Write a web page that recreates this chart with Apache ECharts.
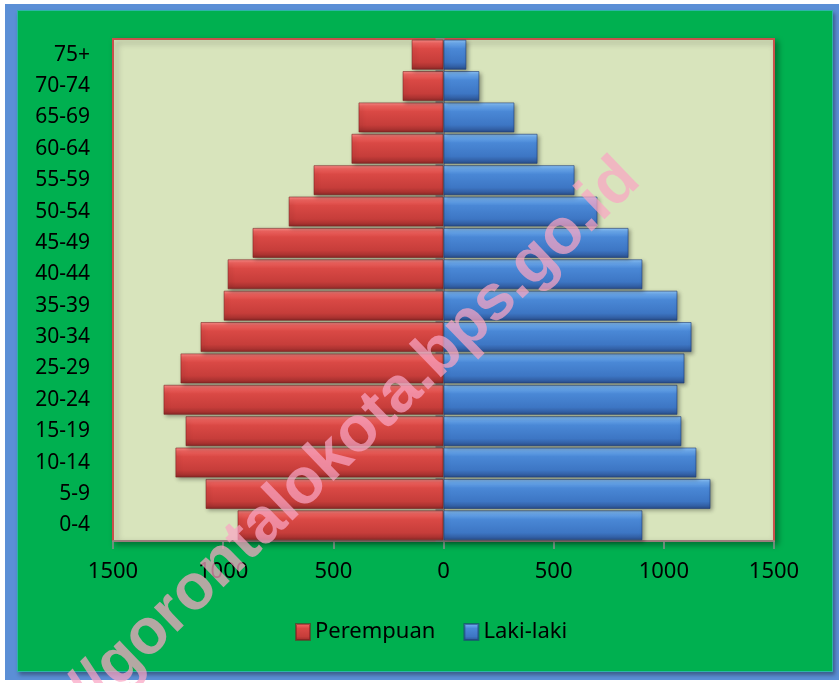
<!DOCTYPE html>
<html>
<head>
<meta charset="utf-8">
<script src="https://cdn.jsdelivr.net/npm/echarts@6/dist/echarts.min.js"></script>
<style>
  html, body { margin: 0; padding: 0; background: #ffffff; width: 839px; height: 683px; overflow: hidden; }
  #frame { position: absolute; left: 5px; top: 4px; width: 834px; height: 676px; background: #5B8FD6; }
  #panel { position: absolute; left: 17px; top: 10px; width: 814px; height: 660px; background: #00B050;
           border: 1px solid #2DB5A8; box-shadow: 2px 3px 4px rgba(0,0,0,0.35); }
  #chart { position: absolute; left: 0; top: 0; width: 839px; height: 683px; }
</style>
</head>
<body>
<div id="frame"></div>
<div id="panel"></div>
<div id="chart"></div>
<script>
// Age groups (bottom to top)
const categories = ['0-4','5-9','10-14','15-19','20-24','25-29','30-34','35-39','40-44','45-49','50-54','55-59','60-64','65-69','70-74','75+'];
// Female (left side)
const perempuan = [935, 1080, 1217, 1171, 1271, 1194, 1103, 998, 980, 867, 703, 590, 418, 386, 186, 145];
// Male (right side)
const lakiLaki = [903, 1212, 1148, 1080, 1062, 1094, 1126, 1062, 903, 840, 699, 595, 427, 322, 163, 104];
// Value axis ticks
const axisMin = -1500, axisMax = 1500, axisStep = 500;
const watermark = 'http://gorontalokota.bps.go.id';

const FONT = 'Noto Sans';

const redFill = new echarts.graphic.LinearGradient(0, 0, 0, 1, [
  { offset: 0, color: '#FA908C' },
  { offset: 0.12, color: '#EE625E' },
  { offset: 0.3, color: '#DA4945' },
  { offset: 0.75, color: '#C63D3A' },
  { offset: 0.9, color: '#A93230' },
  { offset: 1, color: '#842624' }
]);
const blueFill = new echarts.graphic.LinearGradient(0, 0, 0, 1, [
  { offset: 0, color: '#90C6F8' },
  { offset: 0.12, color: '#6AA8EC' },
  { offset: 0.3, color: '#4A88D6' },
  { offset: 0.75, color: '#3D76C4' },
  { offset: 0.9, color: '#325FA4' },
  { offset: 1, color: '#264A84' }
]);

const chart = echarts.init(document.getElementById('chart'), null, { renderer: 'canvas' });

chart.setOption({
  backgroundColor: 'transparent',
  animation: false,
  textStyle: { fontFamily: FONT },
  grid: {
    left: 113, top: 39, width: 661, height: 502,
    show: true,
    backgroundColor: '#D8E4BC',
    borderColor: '#C8504C',
    borderWidth: 2,
    shadowBlur: 6,
    shadowOffsetX: 3,
    shadowOffsetY: 3,
    shadowColor: 'rgba(0,0,0,0.35)',
    containLabel: false
  },
  legend: {
    data: ['Perempuan', 'Laki-laki'],
    left: 290,
    top: 616,
    itemWidth: 14,
    itemHeight: 16,
    itemGap: 28,
    icon: 'rect',
    textStyle: { fontFamily: FONT, fontSize: 22, color: '#000000' }
  },
  xAxis: {
    type: 'value',
    min: axisMin,
    max: axisMax,
    interval: axisStep,
    splitLine: { show: false },
    axisLine: { show: true, lineStyle: { color: '#8C8C8C', width: 1.5 } },
    axisTick: { show: true, length: 8, lineStyle: { color: '#8C8C8C', width: 1.5 } },
    axisLabel: {
      margin: 20,
      fontFamily: FONT,
      fontSize: 22,
      color: '#000000',
      formatter: v => String(Math.abs(v))
    }
  },
  yAxis: [
    {
      type: 'category',
      data: categories,
      position: 'left',
      axisLine: { show: false, onZero: false },
      axisTick: { show: false },
      axisLabel: { margin: 23, fontFamily: FONT, fontSize: 21, color: '#000000' },
      splitLine: { show: false }
    },
    {
      type: 'category',
      data: categories,
      position: 'left',
      axisLine: { show: true, onZero: true, lineStyle: { color: '#8C8C8C', width: 1.5 } },
      axisTick: { show: true, length: 8, lineStyle: { color: '#8C8C8C', width: 1.5 } },
      axisLabel: { show: false },
      splitLine: { show: false }
    }
  ],
  series: [
    {
      name: 'Perempuan',
      type: 'bar',
      stack: 'pop',
      yAxisIndex: 0,
      barCategoryGap: '4%',
      data: perempuan.map(v => -v),
      itemStyle: {
        color: redFill,
        borderColor: 'rgba(120,30,30,0.55)',
        borderWidth: 1,
        shadowBlur: 4,
        shadowOffsetX: 2,
        shadowOffsetY: 2,
        shadowColor: 'rgba(0,0,0,0.35)'
      }
    },
    {
      name: 'Laki-laki',
      type: 'bar',
      stack: 'pop',
      yAxisIndex: 0,
      barCategoryGap: '4%',
      data: lakiLaki.slice(),
      itemStyle: {
        color: blueFill,
        borderColor: 'rgba(30,60,120,0.6)',
        borderWidth: 1,
        shadowBlur: 4,
        shadowOffsetX: 2,
        shadowOffsetY: 2,
        shadowColor: 'rgba(0,0,0,0.35)'
      }
    }
  ],
  graphic: [
    {
      type: 'text',
      z: 100,
      x: 630,
      y: 170,
      rotation: 44 * Math.PI / 180,
      silent: true,
      style: {
        text: watermark,
        fontFamily: 'Liberation Sans',
        fontWeight: 'bold',
        fontSize: 64,
        fill: 'rgba(250,165,195,0.72)',
        textAlign: 'right',
        textVerticalAlign: 'middle'
      }
    }
  ]
});
</script>
</body>
</html>
